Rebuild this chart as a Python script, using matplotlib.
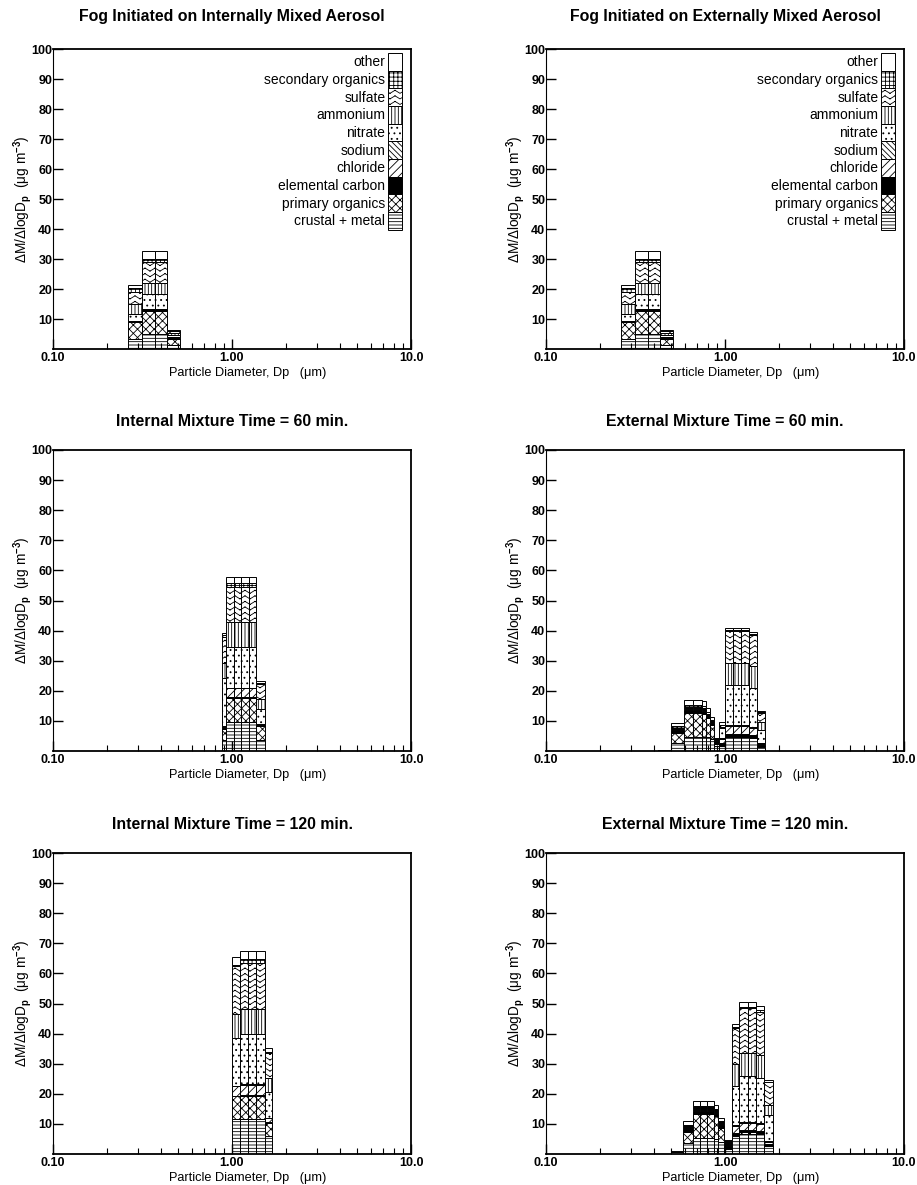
import warnings
import numpy as np
import matplotlib
matplotlib.use("Agg")
import matplotlib.pyplot as plt
from matplotlib import hatch as mhatch
from matplotlib.path import Path
from matplotlib.ticker import LogLocator, NullFormatter

warnings.filterwarnings("ignore", message=".*hatch must consist.*")

# species in stacking order (bottom -> top)
species = ["crustal + metal", "primary organics", "elemental carbon", "chloride",
           "sodium", "nitrate", "ammonium", "sulfate", "secondary organics", "other"]

# --- fog initiated, internal mixture: bin edges (um) and mass per bin ---
fog_int_edges = [0.262, 0.316, 0.370, 0.431, 0.511]
fog_int_mass = [
    [3.4, 5.6, 0.2, 0.1, 0.1, 2.4, 3.1, 4.1, 1.4, 1.0],
    [5.1, 7.6, 0.5, 0.1, 0.1, 4.8, 3.8, 7.0, 1.1, 2.6],
    [5.1, 7.6, 0.5, 0.1, 0.1, 4.8, 3.8, 7.0, 1.1, 2.6],
    [1.2, 2.2, 0.4, 0.1, 0.1, 0.8, 0.5, 0.6, 0.2, 0.3],
]

# --- fog initiated, external mixture ---
fog_ext_edges = [0.262, 0.316, 0.370, 0.431, 0.511]
fog_ext_mass = [
    [3.4, 5.6, 0.2, 0.1, 0.1, 2.4, 3.1, 4.2, 1.3, 1.0],
    [5.1, 7.6, 0.5, 0.1, 0.1, 4.8, 3.8, 7.0, 1.1, 2.6],
    [5.1, 7.6, 0.5, 0.1, 0.1, 4.8, 3.8, 7.0, 1.1, 2.6],
    [1.2, 2.2, 0.4, 0.1, 0.1, 0.8, 0.5, 0.6, 0.2, 0.3],
]

# --- internal mixture, 60 min ---
int60_edges = [0.875, 0.929, 1.020, 1.127, 1.239, 1.368, 1.521]
int60_mass = [
    [3.5, 3.8, 0.3, 0.5, 0.2, 15.8, 5.0, 8.8, 0.6, 0.6],
    [9.5, 8.0, 0.4, 3.0, 0.1, 13.6, 8.2, 11.8, 1.1, 2.1],
    [9.5, 8.0, 0.4, 3.0, 0.1, 13.6, 8.2, 11.8, 1.1, 2.1],
    [9.5, 8.0, 0.4, 3.0, 0.1, 13.6, 8.2, 11.8, 1.1, 2.1],
    [9.5, 8.0, 0.4, 3.0, 0.1, 13.6, 8.2, 11.8, 1.1, 2.1],
    [3.7, 4.5, 0.4, 0.2, 0.1, 5.0, 3.3, 5.0, 0.5, 0.5],
]

# --- external mixture, 60 min ---
ext60_edges = [0.424, 0.502, 0.591, 0.664, 0.740, 0.782, 0.822, 0.866,
               0.923, 1.006, 1.109, 1.225, 1.358, 1.511, 1.683]
ext60_mass = [
    [0.2, 0.1, 0.0, 0.0, 0.0, 0.0, 0.0, 0.0, 0.0, 0.1],
    [2.5, 3.6, 0.8, 0.1, 0.3, 0.2, 0.1, 0.1, 0.5, 1.2],
    [4.8, 7.9, 0.8, 0.1, 0.3, 0.3, 0.2, 0.2, 0.6, 1.7],
    [4.8, 7.9, 0.8, 0.1, 0.3, 0.3, 0.2, 0.2, 0.6, 1.7],
    [4.7, 7.7, 0.8, 0.1, 0.3, 0.3, 0.2, 0.2, 0.6, 1.7],
    [4.5, 6.3, 0.7, 0.1, 0.3, 0.3, 0.1, 0.1, 0.4, 1.4],
    [4.0, 4.7, 0.6, 0.1, 0.2, 0.2, 0.1, 0.1, 0.3, 0.9],
    [1.5, 0.9, 0.8, 0.1, 0.1, 0.2, 0.1, 0.1, 0.1, 0.3],
    [1.5, 0.6, 0.5, 1.5, 0.3, 3.2, 0.5, 0.5, 0.2, 0.9],
    [4.5, 0.3, 0.8, 2.7, 0.3, 13.2, 7.5, 10.5, 0.5, 0.7],
    [4.5, 0.3, 0.8, 2.7, 0.3, 13.2, 7.5, 10.5, 0.5, 0.7],
    [4.5, 0.3, 0.8, 2.7, 0.3, 13.2, 7.5, 10.5, 0.5, 0.7],
    [4.3, 0.3, 0.7, 2.4, 0.3, 12.9, 7.4, 10.3, 0.3, 0.7],
    [1.3, 0.2, 0.5, 0.3, 0.2, 4.5, 2.7, 3.0, 0.1, 0.6],
]

# --- internal mixture, 120 min ---
int120_edges = [0.995, 1.107, 1.228, 1.368, 1.521, 1.682]
int120_mass = [
    [11.6, 7.6, 0.2, 3.1, 0.1, 16.0, 7.8, 16.0, 0.5, 2.4],
    [11.6, 7.6, 0.5, 3.3, 0.2, 16.6, 8.4, 15.2, 1.4, 2.5],
    [11.6, 7.6, 0.5, 3.3, 0.2, 16.6, 8.4, 15.2, 1.4, 2.5],
    [11.6, 7.6, 0.5, 3.3, 0.2, 16.6, 8.4, 15.2, 1.4, 2.5],
    [5.9, 4.4, 0.3, 1.3, 0.2, 8.6, 4.4, 8.4, 0.5, 1.2],
]

# --- external mixture, 120 min ---
ext120_edges = [0.499, 0.585, 0.665, 0.725, 0.793, 0.868, 0.910, 0.987,
                1.089, 1.202, 1.339, 1.491, 1.660, 1.862]
ext120_mass = [
    [0.5, 0.2, 0.1, 0.0, 0.0, 0.0, 0.0, 0.0, 0.0, 0.1],
    [3.7, 3.6, 0.9, 0.1, 0.3, 0.3, 0.2, 0.1, 0.4, 1.3],
    [5.3, 8.1, 0.9, 0.2, 0.4, 0.3, 0.2, 0.2, 0.4, 1.7],
    [5.3, 8.1, 0.9, 0.2, 0.4, 0.3, 0.2, 0.2, 0.4, 1.7],
    [5.3, 8.1, 0.9, 0.2, 0.4, 0.3, 0.2, 0.2, 0.4, 1.7],
    [5.0, 7.5, 0.8, 0.2, 0.4, 0.3, 0.2, 0.2, 0.3, 1.5],
    [4.0, 4.8, 0.8, 0.2, 0.3, 0.3, 0.1, 0.1, 0.3, 1.1],
    [1.5, 0.4, 0.8, 0.4, 0.2, 0.5, 0.1, 0.1, 0.2, 0.3],
    [6.0, 0.4, 0.6, 2.2, 0.3, 13.0, 7.5, 12.0, 0.2, 1.1],
    [6.8, 0.4, 0.8, 2.3, 0.3, 15.4, 7.7, 14.7, 0.4, 1.6],
    [6.8, 0.4, 0.8, 2.3, 0.3, 15.4, 7.7, 14.7, 0.4, 1.6],
    [6.6, 0.4, 0.8, 2.2, 0.3, 15.0, 7.5, 14.5, 0.4, 1.4],
    [2.5, 0.3, 0.6, 0.6, 0.2, 8.9, 3.3, 7.4, 0.1, 0.8],
]

titles = ["Fog Initiated on Internally Mixed Aerosol",
          "Fog Initiated on Externally Mixed Aerosol",
          "Internal Mixture Time = 60 min.",
          "External Mixture Time = 60 min.",
          "Internal Mixture Time = 120 min.",
          "External Mixture Time = 120 min."]
x_ticks = [0.1, 1.0, 10.0]
x_tick_labels = ["0.10", "1.00", "10.0"]
y_ticks = [10, 20, 30, 40, 50, 60, 70, 80, 90, 100]

# fill style of each species (same order as species)
hatches = ["-----", "xxxx", None, "////", "\\\\\\\\\\\\", "...", "|||||", "vvv", "++++", None]
faces = ["white", "white", "black", "white", "white", "white", "white", "white", "white", "white"]


class ZigZagHatch(mhatch.HatchPatternBase):
    """rows of little chevrons, used for sulfate (hatch letter 'v')"""

    def __init__(self, hatch, density):
        self.num_rows = int(hatch.count("v") * density)
        self.num_peaks = (self.num_rows * 5) // 9
        # every stroke is its own MOVETO/LINETO pair so nothing gets filled
        self.num_segs = 2 * self.num_peaks
        self.num_vertices = self.num_rows * self.num_segs * 2

    def set_vertices_and_codes(self, vertices, codes):
        xs = np.linspace(0.0, 1.0, self.num_segs + 1)
        amp = 0.55 / self.num_rows
        wave = np.where(np.arange(self.num_segs + 1) % 2 == 1, amp, 0.0)
        n = 0
        for i in range(self.num_rows):
            y = (i + 0.2) / self.num_rows + wave
            for j in range(self.num_segs):
                vertices[n] = (xs[j], y[j])
                vertices[n + 1] = (xs[j + 1], y[j + 1])
                codes[n] = Path.MOVETO
                codes[n + 1] = Path.LINETO
                n += 2


mhatch._hatch_types.append(ZigZagHatch)

plt.rcParams["font.family"] = ["Liberation Sans", "DejaVu Sans"]
plt.rcParams["font.weight"] = "bold"
plt.rcParams["hatch.linewidth"] = 0.6
plt.rcParams["mathtext.fontset"] = "custom"
plt.rcParams["mathtext.bf"] = "Liberation Sans:bold"
plt.rcParams["mathtext.rm"] = "Liberation Sans:bold"
plt.rcParams["mathtext.default"] = "bf"

panels = [
    (fog_int_edges, fog_int_mass),
    (fog_ext_edges, fog_ext_mass),
    (int60_edges, int60_mass),
    (ext60_edges, ext60_mass),
    (int120_edges, int120_mass),
    (ext120_edges, ext120_mass),
]

W, H = 917, 1185
fig = plt.figure(figsize=(W / 100, H / 100), dpi=100)

# axes frames in pixels: (left, right) and (top, bottom)
col_x = [(53, 411), (546, 904)]
row_y = [(49, 349), (450, 751), (853, 1154)]
title_pad = [20, 17, 17]

for i, (edges, mass) in enumerate(panels):
    r, c = divmod(i, 2)
    x0, x1 = col_x[c]
    y0, y1 = row_y[r]
    ax = fig.add_axes([x0 / W, 1 - y1 / H, (x1 - x0) / W, (y1 - y0) / H])

    edges = np.array(edges)
    mass = np.array(mass)
    widths = edges[1:] - edges[:-1]
    bottom = np.zeros(len(widths))
    bars = []
    for k, name in enumerate(species):
        b = ax.bar(edges[:-1], mass[:, k], width=widths, bottom=bottom, align="edge",
                   facecolor=faces[k], edgecolor="black", hatch=hatches[k],
                   linewidth=0.7, label=name)
        bars.append(b)
        bottom += mass[:, k]

    ax.set_xscale("log")
    ax.set_xlim(0.1, 10)
    ax.set_ylim(0, 100)
    ax.set_xticks(x_ticks)
    ax.set_xticklabels(x_tick_labels)
    ax.xaxis.set_minor_locator(LogLocator(base=10, subs=range(2, 10)))
    ax.xaxis.set_minor_formatter(NullFormatter())
    ax.set_yticks(y_ticks)
    ax.tick_params(direction="in", length=7, width=1, labelsize=9)
    ax.tick_params(axis="x", which="minor", direction="in", length=4, width=0.8)
    ax.tick_params(axis="y", pad=0.5)
    ax.tick_params(axis="x", pad=2)
    for side in ["top", "right", "bottom"]:
        ax.spines[side].set_linewidth(1.3)
    ax.spines["left"].set_linewidth(0.8)

    ax.set_title(titles[i], fontsize=11.4, fontweight="bold", pad=title_pad[r])
    ax.set_xlabel("Particle Diameter, Dp   (\u03bcm)", fontsize=9.2)
    ax.xaxis.set_label_coords(0.545, -0.06)
    ax.set_ylabel("\u0394M/\u0394logD$_p$  (\u03bcg m$^{-3}$)", fontsize=9.8)
    ax.yaxis.set_label_coords(-0.053, 0.5)

    if r == 0:
        ax.legend(bars[::-1], species[::-1], loc="upper right",
                  bbox_to_anchor=(0.975, 0.987), frameon=False, markerfirst=False,
                  prop={"size": 10, "weight": "normal"},
                  handlelength=1.0, handleheight=1.58, labelspacing=0,
                  handletextpad=0.2, borderpad=0, borderaxespad=0)

fig.savefig("out.png", dpi=100)
